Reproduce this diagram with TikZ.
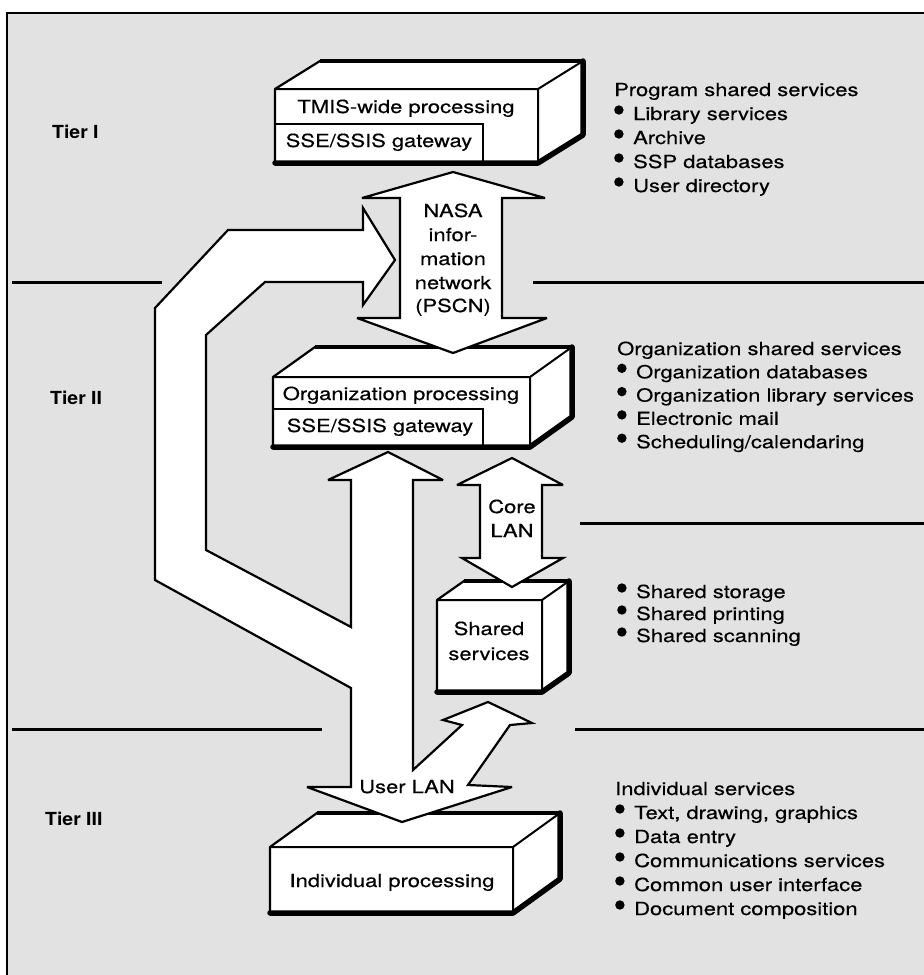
\documentclass[tikz,border=0pt]{standalone}
\usepackage{fontspec}
\setmainfont{TeX Gyre Heros}[FakeStretch=1.22, FakeBold=0.4]
\newfontfamily\tierfont{TeX Gyre Heros}[FakeStretch=1.08]
\definecolor{paper}{RGB}{226,226,226}
% raised round bullet for the service lists
\newcommand\blt{\makebox[19pt][l]{\tikz[baseline=0pt]\fill (4.7pt,10pt) circle (4.7pt);}}
% solid box: front face (x1,y1)-(x2,y2), receding by (dx,dy)
\newcommand\solidbox[6]{%
  \pgfmathsetmacro\bxa{#1+#5}\pgfmathsetmacro\bxb{#3+#5}%
  \pgfmathsetmacro\bya{#2+#6}\pgfmathsetmacro\byb{#4+#6}%
  \filldraw[face] (#1,#4) -- (#1,#2) -- (\bxa,\bya) -- (\bxb,\bya) -- (\bxb,\byb) -- (#3,#4) -- cycle;
  \draw[edge] (#1,#2) -- (#3,#2) -- (\bxb,\bya) (#3,#2) -- (#3,#4);
  \draw[line width=3.5pt] (\bxa,\bya) -- (\bxb,\bya);
  \draw[heavy] (#1,#4) -- (#3,#4) -- (\bxb,\byb) -- (\bxb,\bya);
}
\tikzset{
  lbl/.style={font=\fontsize{18}{22}\selectfont, inner sep=0pt},
  tier/.style={font=\tierfont\bfseries\fontsize{18}{22}\selectfont, inner sep=0pt, anchor=base west},
  face/.style={fill=white, draw=black, line width=2.2pt, line join=round},
  edge/.style={line width=2pt},
  heavy/.style={line width=5.5pt, line cap=round, line join=round},
  blockarrow/.style={fill=white, draw=black, line width=2.2pt, line join=miter, miter limit=4},
  tierline/.style={line width=3pt},
}
\begin{document}
\begin{tikzpicture}[x=1pt, y=-1pt]
\useasboundingbox (0,0) rectangle (924,975);
% paper and frame
\fill[white] (0,0) rectangle (924,975);
\fill[paper] (7,13) rectangle (924,975);
\draw[line width=2pt] (7,975) -- (7,13) -- (924,13);

% tier separators
\draw[tierline] (12,282) -- (162,282);
\draw[tierline] (533,282) -- (924,282);
\draw[tierline] (580,523) -- (924,523);
\draw[tierline] (12,729) -- (322,729);
\draw[tierline] (575,729) -- (924,729);

% tier labels
\node[tier] (tier1) at (52,138) {Tier I};
\node[tier] (tier2) at (50,404) {Tier II};
\node[tier] (tier3) at (45,825) {Tier III};

% processing boxes
\solidbox{275}{89}{538}{163}{45}{-28}
\draw[edge] (275,124) -- (483,124) -- (483,163);
\solidbox{273}{377}{530}{447}{42}{-30}
\draw[edge] (273,409) -- (483,409) -- (483,447);
\solidbox{437}{600}{542}{692}{27}{-19}
\solidbox{270}{847}{513}{913}{47}{-34}

\node[lbl, anchor=base] (tmis) at (406,113) {TMIS-wide processing};
\node[lbl, anchor=base] (gw1) at (379,147) {SSE/SSIS gateway};
\node[lbl, anchor=base] (org) at (401,400) {Organization processing};
\node[lbl, anchor=base] (gw2) at (380,432) {SSE/SSIS gateway};
\node[lbl, anchor=base] (shr1) at (489,635) {Shared};
\node[lbl, anchor=base] (shr2) at (489,660) {services};
\node[lbl, anchor=base] (indiv) at (392,887) {Individual processing};

% NASA information network
\filldraw[blockarrow] (453,172) -- (545,198) -- (502,198) -- (502,318) -- (547,318)
  -- (453,353) -- (357,318) -- (400,318) -- (400,198) -- (362,198) -- cycle;
\node[lbl, anchor=base] (n1) at (453,217) {NASA};
\node[lbl, anchor=base] (n2) at (453,241) {infor-};
\node[lbl, anchor=base] (n3) at (453,265) {mation};
\node[lbl, anchor=base] (n4) at (453,289) {network};
\node[lbl, anchor=base] (n5) at (453,312) {(PSCN)};

% core LAN
\filldraw[blockarrow] (512,458) -- (563,485) -- (542,485) -- (542,558) -- (563,558)
  -- (512,587) -- (462,558) -- (480,558) -- (480,485) -- (457,485) -- cycle;
\node[lbl, anchor=base] (c1) at (512,513) {Core};
\node[lbl, anchor=base] (c2) at (512,537) {LAN};

% user LAN with its branches
\filldraw[blockarrow] (388,452) -- (443,480) -- (413,480) -- (413,770) -- (462,725)
  -- (443,720) -- (488,702) -- (532,723) -- (510,725) -- (468,785) -- (512,787)
  -- (402,822) -- (307,787) -- (351,787) -- (351,688) -- (155,580) -- (155,308)
  -- (228,230) -- (363,230) -- (363,208) -- (395,260) -- (363,305) -- (363,282)
  -- (265,282) -- (206,335) -- (206,550) -- (351,627) -- (351,480) -- (328,480) -- cycle;
\node[lbl, anchor=base] (ulan) at (407,793) {User LAN};

% service lists
\foreach \txt [count=\i] in {Program shared services, \blt Library services,
    \blt Archive, \blt SSP databases, \blt User directory}
  \node[lbl, anchor=base west] (prog\i) at (614,{96+24*(\i-1)}) {\txt};
\foreach \txt [count=\i] in {Organization shared services, \blt Organization databases,
    \blt Organization library services, \blt Electronic mail, \blt Scheduling/calendaring}
  \node[lbl, anchor=base west] (orgs\i) at (617,{355+23.3*(\i-1)}) {\txt};
\foreach \txt [count=\i] in {\blt Shared storage, \blt Shared printing, \blt Shared scanning}
  \node[lbl, anchor=base west] (shs\i) at (617,{598+22*(\i-1)}) {\txt};
\foreach \txt [count=\i] in {Individual services, {\blt Text, drawing, graphics}, \blt Data entry,
    \blt Communications services, \blt Common user interface, \blt Document composition}
  \node[lbl, anchor=base west] (ind\i) at (615,{795+24*(\i-1)}) {\txt};
\end{tikzpicture}
\end{document}
